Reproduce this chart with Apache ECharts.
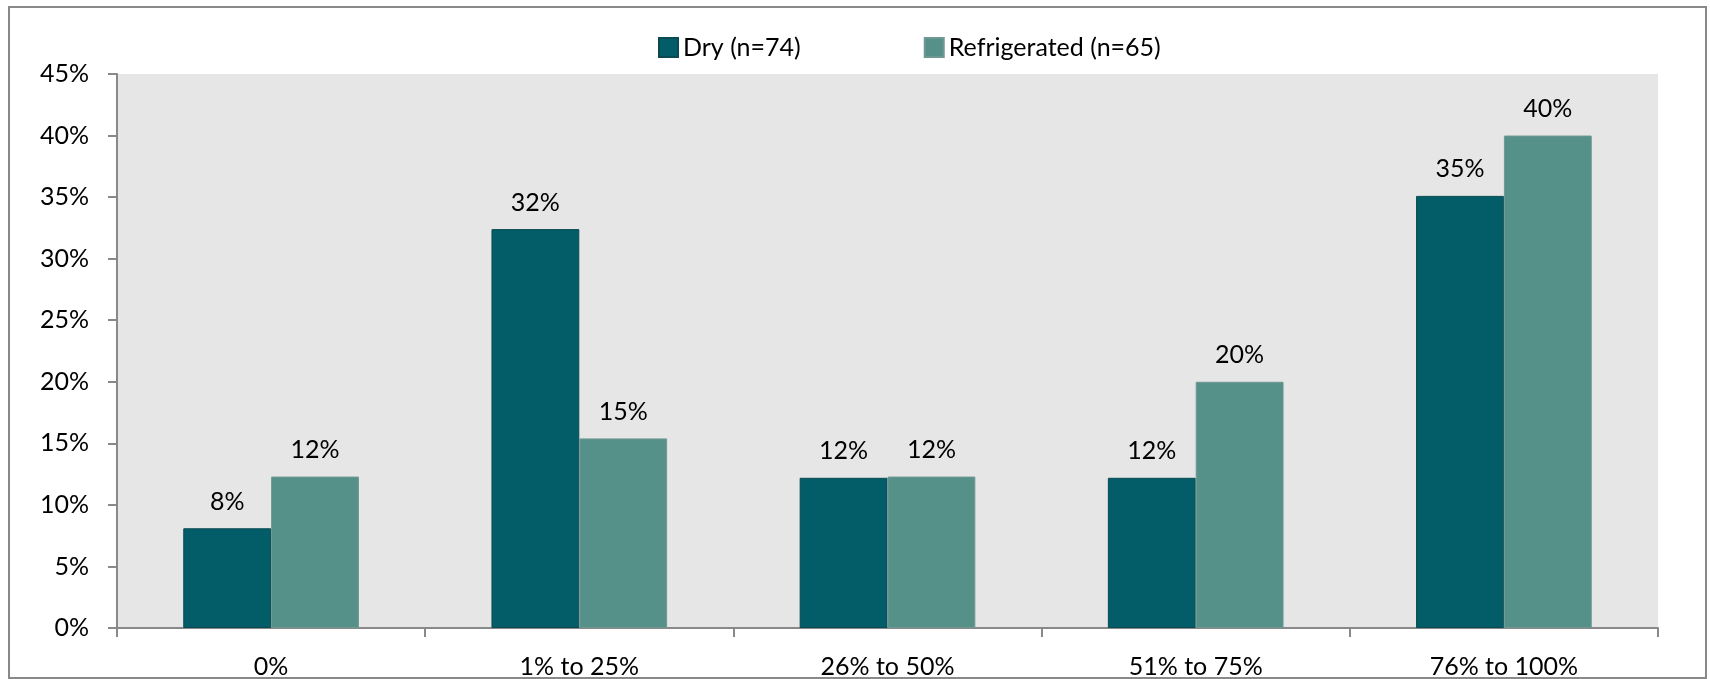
<!DOCTYPE html>
<html>
<head>
<meta charset="utf-8">
<script src="https://cdn.jsdelivr.net/npm/echarts@6/dist/echarts.min.js"></script>
<style>
html,body{margin:0;padding:0;background:#fff;}
#chart{width:1710px;height:679px;}
</style>
</head>
<body>
<div id="chart"></div>
<script>
const categories = ['0%', '1% to 25%', '26% to 50%', '51% to 75%', '76% to 100%'];
const seriesNames = ['Dry (n=74)', 'Refrigerated (n=65)'];
const dryValues = [8.1, 32.4, 12.2, 12.2, 35.1];
const refrigeratedValues = [12.3, 15.4, 12.3, 20.0, 40.0];
const yTicks = [0, 5, 10, 15, 20, 25, 30, 35, 40, 45];

const FONT = 'Lato';
const FS = 25;
const chart = echarts.init(document.getElementById('chart'), null, {renderer: 'canvas'});
const labelFmt = p => Math.round(p.value) + '%';

chart.setOption({
  backgroundColor: '#ffffff',
  animation: false,
  textStyle: {fontFamily: FONT},
  graphic: [{
    type: 'rect',
    shape: {x: 9, y: 7, width: 1697, height: 671},
    style: {fill: 'none', stroke: '#898989', lineWidth: 2},
    silent: true
  }],
  legend: {
    data: seriesNames,
    left: 653,
    top: 30,
    itemWidth: 19,
    itemHeight: 19,
    itemGap: 123,
    icon: 'rect',
    textStyle: {fontFamily: FONT, fontSize: FS, color: '#000'}
  },
  grid: {
    left: 117, right: 52, top: 74, bottom: 51,
    show: true, backgroundColor: '#e6e6e6', borderWidth: 0
  },
  xAxis: {
    type: 'category',
    data: categories,
    axisLine: {lineStyle: {color: '#898989', width: 2}},
    axisTick: {show: true, length: 9, lineStyle: {color: '#898989', width: 2}},
    axisLabel: {fontFamily: FONT, fontSize: FS, color: '#000', margin: 26}
  },
  yAxis: {
    type: 'value',
    min: yTicks[0],
    max: yTicks[yTicks.length - 1],
    interval: 5,
    axisLine: {show: true, lineStyle: {color: '#898989', width: 2}},
    axisTick: {show: true, length: 9, lineStyle: {color: '#898989', width: 2}},
    splitLine: {show: false},
    axisLabel: {fontFamily: FONT, fontSize: FS, color: '#000', margin: 28, formatter: v => v + '%'}
  },
  series: [
    {
      name: seriesNames[0],
      type: 'bar',
      data: dryValues,
      barGap: '0%',
      barCategoryGap: '43%',
      itemStyle: {color: '#025d69', borderColor: '#0b4a52', borderWidth: 1},
      label: {show: true, position: 'top', distance: 14, formatter: labelFmt,
        fontFamily: FONT, fontSize: FS, color: '#000'}
    },
    {
      name: seriesNames[1],
      type: 'bar',
      data: refrigeratedValues,
      barGap: '0%',
      barCategoryGap: '43%',
      itemStyle: {color: '#559189', borderColor: '#6f9893', borderWidth: 1},
      label: {show: true, position: 'top', distance: 14, formatter: labelFmt,
        fontFamily: FONT, fontSize: FS, color: '#000'}
    }
  ]
});
</script>
</body>
</html>
